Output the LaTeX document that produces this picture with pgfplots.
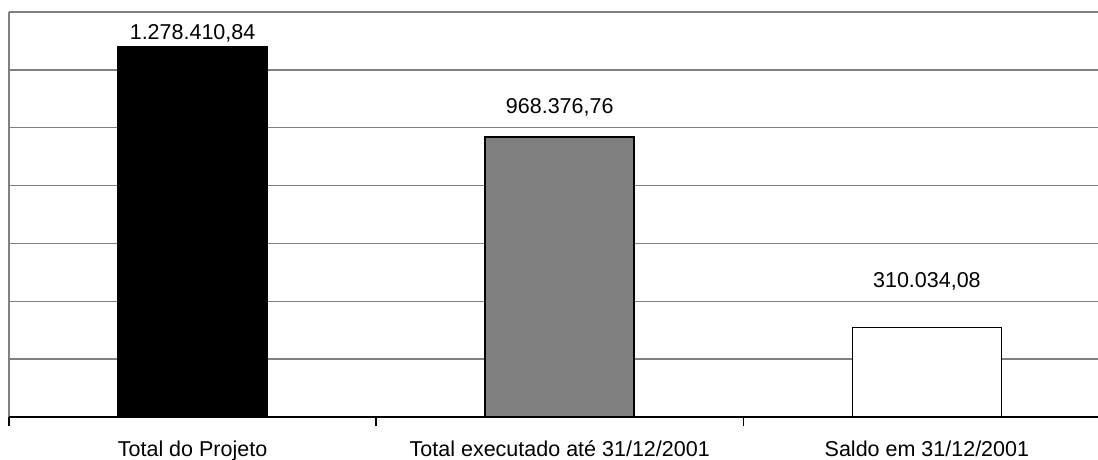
\documentclass[border=0pt]{standalone}
\usepackage{pgfplots}
\pgfplotsset{compat=1.18}
\usepackage{fontspec}
\setmainfont{Liberation Sans}
\begin{document}
\begin{tikzpicture}
\begin{axis}[
  at={(0,0)}, anchor=south west,
  scale only axis, width=1101.5pt, height=405pt,
  xmin=-0.5, xmax=2.5, ymin=0, ymax=1400000,
  axis line style={draw=none},
  scaled y ticks=false,
  ytick={0,200000,400000,600000,800000,1000000,1200000,1400000},
  yticklabels={},
  ymajorgrids,
  major grid style={draw=gray, line width=1.5pt},
  y tick style={draw=none},
  xtick={0,1,2},
  xtick pos=bottom,
  xticklabels={Total do Projeto, Total executado até 31/12/2001, Saldo em 31/12/2001},
  major x tick style={draw=none},
  minor xtick={-0.5,0.5,1.5,2.5},
  minor x tick style={draw=black, line width=1.5pt},
  minor tick length=9pt,
  tick align=outside,
  xticklabel style={font=\fontsize{21.5}{25}\selectfont, anchor=base, yshift=-35pt},
  clip=false,
]
\addplot[ybar, bar shift=0pt, bar width=149pt, fill=black, draw=black, line width=1.5pt] coordinates {(0,1278410.84)};
\addplot[ybar, bar shift=0pt, bar width=149pt, fill=gray, draw=black, line width=1.5pt] coordinates {(1,968376.76)};
\addplot[ybar, bar shift=0pt, bar width=149pt, fill=white, draw=black, line width=1.5pt] coordinates {(2,310034.08)};
\draw[gray, line width=2pt] (rel axis cs:0,0) -- (rel axis cs:0,1);
\draw[black, line width=2pt] (rel axis cs:0,0) -- (rel axis cs:1,0);
\node[anchor=base, font=\fontsize{21.5}{25}\selectfont, yshift=8pt] at (axis cs:0,1278410.84) {1.278.410,84};
\node[anchor=base, font=\fontsize{21.5}{25}\selectfont, yshift=23pt] at (axis cs:1,968376.76) {968.376,76};
\node[anchor=base, font=\fontsize{21.5}{25}\selectfont, yshift=40pt] at (axis cs:2,310034.08) {310.034,08};
\end{axis}
\pgfresetboundingbox
\path[use as bounding box] (-9pt,-42pt) rectangle (1089pt,417pt);
\end{tikzpicture}
\end{document}
